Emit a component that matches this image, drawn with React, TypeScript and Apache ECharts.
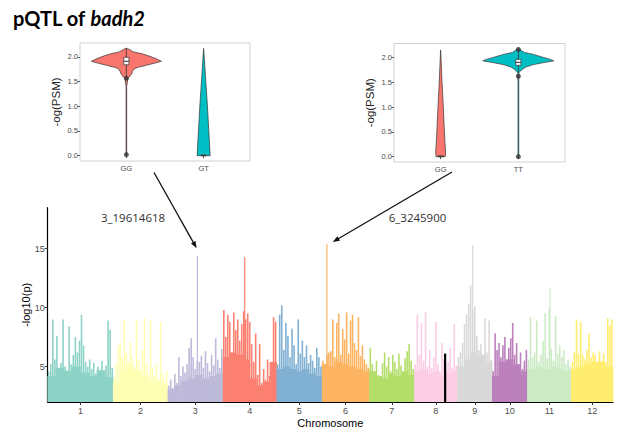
import React, { useEffect, useRef } from "react";
import * as echarts from "echarts";

// ---------- Manhattan plot data ----------
const chromosomes = ["1", "2", "3", "4", "5", "6", "7", "8", "9", "10", "11", "12"];
const chrLengthsMb = [43.27, 35.94, 36.41, 35.5, 29.96, 31.25, 29.7, 28.44, 23.01, 23.21, 29.02, 27.53];
const chrColors = ["#8DD3C7", "#FFFFB3", "#BEBADA", "#FB8072", "#80B1D3", "#FDB462", "#B3DE69", "#FCCDE5", "#D9D9D9", "#BC80BD", "#CCEBC5", "#FFED6F"];

// max -log10(p) per evenly spaced window along each chromosome
const chr1LogP = [4.6, 5.2, 9.0, 5.6, 7.6, 4.4, 5.3, 9.0, 5.0, 4.7, 8.4, 5.2, 6.0, 7.5, 6.2, 7.2, 9.4, 6.8, 5.4, 5.0, 5.6, 4.8, 5.3, 4.4, 5.0, 4.6, 5.5, 4.3, 5.1, 8.9, 8.1, 4.9];
const chr2LogP = [4.0, 5.2, 6.8, 7.0, 5.8, 9.0, 6.2, 5.4, 7.1, 5.8, 4.9, 9.0, 5.6, 4.8, 6.4, 9.1, 5.2, 4.4, 8.9, 4.9, 4.2, 5.3, 3.9, 8.8, 4.4, 3.8, 4.6];
const chr3LogP = [3.4, 3.9, 3.2, 4.4, 3.6, 5.8, 4.2, 5.0, 4.5, 5.2, 6.6, 7.4, 5.8, 4.8, 5.5, 5.4, 5.9, 4.9, 6.3, 5.3, 4.6, 6.0, 5.1, 7.4, 5.6, 4.9, 6.5];
const chr4LogP = [9.8, 7.5, 9.4, 8.8, 6.2, 9.6, 8.1, 9.0, 7.2, 8.6, 9.7, 9.0, 9.5, 8.8, 6.9, 5.4, 7.8, 4.3, 6.9, 3.6, 4.8, 3.9, 5.6, 4.2, 5.3, 9.2, 8.8];
const chr5LogP = [5.2, 9.4, 10.2, 6.4, 8.7, 7.6, 5.8, 8.2, 6.8, 5.2, 9.0, 6.1, 7.2, 5.8, 6.8, 5.3, 6.0, 5.5, 4.9, 6.6, 5.8, 5.0];
const chr6LogP = [5.5, 5.2, 6.0, 6.2, 6.3, 9.0, 5.8, 8.7, 9.5, 6.0, 8.2, 7.3, 9.6, 6.1, 8.9, 9.4, 7.0, 6.4, 9.2, 5.9, 6.8, 5.6, 5.2, 4.9];
const chr7LogP = [6.6, 5.2, 4.6, 5.5, 4.3, 3.9, 5.3, 6.2, 5.0, 5.8, 4.6, 6.0, 5.4, 4.8, 6.1, 5.1, 4.4, 5.7, 6.3, 6.9, 5.5, 4.8];
const chr8LogP = [5.2, 9.4, 6.0, 8.7, 5.5, 9.6, 5.0, 6.4, 4.9, 5.8, 8.8, 5.2, 4.6, 7.0, 5.6, 4.8, 5.4, 6.6, 4.9, 8.6, 5.1];
const chr9LogP = [5.8, 6.2, 7.0, 8.6, 9.4, 10.3, 11.9, 9.8, 10.1, 7.6, 6.4, 6.9, 5.8, 9.1, 6.2, 8.9, 5.6];
const chr10LogP = [4.6, 7.8, 6.4, 7.0, 5.8, 6.8, 7.5, 5.6, 6.6, 7.4, 8.7, 6.0, 7.0, 5.2, 6.2, 4.8, 5.5, 6.4];
const chr11LogP = [5.6, 9.2, 5.8, 6.2, 8.9, 5.4, 6.0, 7.2, 9.5, 5.7, 10.0, 6.5, 5.5, 9.3, 6.1, 6.8, 5.8, 6.4, 5.2, 5.6, 5.0];
const chr12LogP = [5.4, 6.2, 9.0, 6.1, 8.8, 6.0, 5.6, 6.4, 7.8, 5.8, 6.2, 6.0, 5.4, 6.3, 5.5, 6.1, 5.0, 9.1, 8.5, 9.0];
const logPByChr = [chr1LogP, chr2LogP, chr3LogP, chr4LogP, chr5LogP, chr6LogP, chr7LogP, chr8LogP, chr9LogP, chr10LogP, chr11LogP, chr12LogP];

// dense background level (where SNPs overlap completely) per chromosome segment
const chr1Floor = [4.2, 4.9, 4.6, 5.0, 4.5, 4.2, 4.7, 4.1];
const chr2Floor = [3.6, 4.6, 5.0, 4.6, 4.2, 3.8, 3.7, 3.5];
const chr3Floor = [3.1, 3.4, 3.8, 4.0, 4.3, 4.0, 4.2, 4.4];
const chr4Floor = [5.8, 6.2, 6.0, 5.6, 4.0, 3.4, 3.7, 5.4];
const chr5Floor = [4.8, 5.0, 4.8, 4.6, 4.8, 4.4, 4.2];
const chr6Floor = [5.2, 5.0, 5.4, 5.2, 5.0, 4.8, 4.6];
const chr7Floor = [4.6, 4.2, 4.0, 4.4, 4.2, 4.6, 4.3];
const chr8Floor = [4.6, 4.8, 4.4, 4.6, 4.2, 4.4, 4.6];
const chr9Floor = [5.0, 5.6, 6.2, 6.0, 5.4];
const chr10Floor = [4.2, 5.4, 5.6, 5.2, 4.6];
const chr11Floor = [4.8, 5.0, 4.8, 5.0, 4.8, 4.6];
const chr12Floor = [4.8, 5.0, 5.2, 5.4, 5.4, 5.0];
const floorByChr = [chr1Floor, chr2Floor, chr3Floor, chr4Floor, chr5Floor, chr6Floor, chr7Floor, chr8Floor, chr9Floor, chr10Floor, chr11Floor, chr12Floor];

// isolated tall single-SNP signals
const spikeChr = [3, 4, 6, 9, 11];
const spikePosMb = [19.614618, 14.45, 3.2459, 10.1, 14.9];
const spikeLogP = [14.4, 14.3, 15.4, 15.3, 11.7];

// highlighted badh2 locus (black)
const badh2Chr = 8;
const badh2PosMb = 20.38;
const badh2LogP = 6.1;

const yTicks = [5, 10, 15];
const yMin = 2;
const yMax = 18.47;

// lead SNP annotations (index into the spike arrays)
const leadSpikeIdx = [0, 2];
const leadLabels = ["3_19614618", "6_3245900"];

// ---------- violin insets ----------
const leftGenotypes = ["GG", "GT"];
const rightGenotypes = ["GG", "TT"];
const psmTicks = [0, 0.5, 1, 1.5, 2];
const psmMin = -0.108;
const psmMax = 2.28;

const leftGGLevels = [2.175, 2.15, 2.1, 2.06, 2.0, 1.95, 1.91, 1.87, 1.83, 1.79, 1.76, 1.7, 1.66, 1.62, 1.59, 1.56, 1.4, 1.0, 0.5, 0.02];
const leftGGHalf = [0, 0.039, 0.091, 0.207, 0.323, 0.401, 0.453, 0.362, 0.259, 0.155, 0.103, 0.078, 0.071, 0.052, 0.039, 0.019, 0.004, 0.004, 0.004, 0.004];
const leftGGBox = [1.56, 1.84, 1.91, 1.99, 2.17];
const leftGGOutliers = [1.565, 0.02];

const leftGTLevels = [2.17, 1.8, 1.5, 1.2, 0.9, 0.6, 0.3, 0.1, 0.0];
const leftGTHalf = [0, 0.016, 0.028, 0.041, 0.053, 0.063, 0.074, 0.081, 0.084];
const leftGTBox = [0, 0, 0, 0.02, 0.02];

const rightGGLevels = [2.15, 1.8, 1.5, 1.2, 0.9, 0.6, 0.3, 0.15, 0.05, 0.0];
const rightGGHalf = [0, 0.01, 0.018, 0.028, 0.037, 0.046, 0.055, 0.062, 0.063, 0.059];
const rightGGBox = [0, 0, 0, 0.02, 0.02];

const rightTTLevels = [2.175, 2.15, 2.1, 2.06, 2.0, 1.96, 1.93, 1.89, 1.85, 1.8, 1.76, 1.72, 1.69, 1.6, 1.0, 0.5, 0.0];
const rightTTHalf = [0, 0.026, 0.077, 0.193, 0.322, 0.412, 0.457, 0.309, 0.18, 0.09, 0.051, 0.026, 0.006, 0.005, 0.005, 0.005, 0.005];
const rightTTBox = [1.7, 1.84, 1.9, 1.96, 2.15];
const rightTTOutliers = [1.62, 0.0, 2.16];

const genoColors = ["#F8766D", "#00BFC4"];

export default function App() {
  const ref = useRef<HTMLDivElement>(null);

  useEffect(() => {
    if (!ref.current) return;
    const chart = echarts.init(ref.current, null, { renderer: "svg" });

    const offsets: number[] = [];
    let acc = 0;
    chrLengthsMb.forEach((l) => {
      offsets.push(acc);
      acc += l;
    });
    const genomeLen = acc;
    const mids = chrLengthsMb.map((l, i) => offsets[i] + l / 2);

    const floorData: number[][] = [];
    floorByChr.forEach((arr, c) => {
      const w = chrLengthsMb[c] / arr.length;
      arr.forEach((v, i) => floorData.push([offsets[c] + (i + 0.5) * w, v, c, w]));
    });
    const peakData: number[][] = [];
    logPByChr.forEach((arr, c) => {
      const w = chrLengthsMb[c] / arr.length;
      arr.forEach((v, i) => peakData.push([offsets[c] + (i + 0.5) * w, v, c]));
    });
    const spikeData = spikeChr.map((c, i) => [offsets[c - 1] + spikePosMb[i], spikeLogP[i], c - 1]);
    const badh2Data = [[offsets[badh2Chr - 1] + badh2PosMb, badh2LogP]];

    const font = "Liberation Sans, Arial, sans-serif";

    type Violin = { pos: number; color: string; levels: number[]; half: number[]; box: number[] };
    const leftViolins: Violin[] = [
      { pos: 1, color: genoColors[0], levels: leftGGLevels, half: leftGGHalf, box: leftGGBox },
      { pos: 2, color: genoColors[1], levels: leftGTLevels, half: leftGTHalf, box: leftGTBox },
    ];
    const rightViolins: Violin[] = [
      { pos: 1, color: genoColors[0], levels: rightGGLevels, half: rightGGHalf, box: rightGGBox },
      { pos: 2, color: genoColors[1], levels: rightTTLevels, half: rightTTHalf, box: rightTTBox },
    ];
    const boxHalf = 0.033;

    const violinRender = (violins: Violin[]) => (params: any, api: any) => {
      const v = violins[params.dataIndex];
      const right = v.levels.map((l, i) => api.coord([v.pos + v.half[i], l]));
      const left = v.levels.map((l, i) => api.coord([v.pos - v.half[i], l])).reverse();
      const [lo, q1, med, q3, hi] = v.box;
      const wTop = api.coord([v.pos, hi]);
      const wBot = api.coord([v.pos, lo]);
      const bTL = api.coord([v.pos - boxHalf, q3]);
      const bBR = api.coord([v.pos + boxHalf, q1]);
      const mL = api.coord([v.pos - boxHalf, med]);
      const mR = api.coord([v.pos + boxHalf, med]);
      return {
        type: "group",
        children: [
          {
            type: "polygon",
            shape: { points: right.concat(left) },
            style: { fill: v.color, stroke: "#333", lineWidth: 0.7 },
          },
          {
            type: "line",
            shape: { x1: wTop[0], y1: wTop[1], x2: wBot[0], y2: wBot[1] },
            style: { stroke: "#333", lineWidth: 0.8 },
          },
          {
            type: "rect",
            shape: { x: bTL[0], y: bTL[1], width: bBR[0] - bTL[0], height: Math.max(1, bBR[1] - bTL[1]) },
            style: { fill: "#fff", stroke: "#333", lineWidth: 0.7 },
          },
          {
            type: "line",
            shape: { x1: mL[0], y1: mL[1], x2: mR[0], y2: mR[1] },
            style: { stroke: "#333", lineWidth: 1 },
          },
        ],
      };
    };

    const insetXAxis = (gridIndex: number, labels: string[]) => ({
      type: "value",
      gridIndex,
      min: 0.4,
      max: 2.6,
      axisLine: { show: false },
      splitLine: { show: false },
      axisTick: { show: true, customValues: [1, 2], length: 2.5, lineStyle: { color: "#333", width: 0.8 } },
      axisLabel: {
        customValues: [1, 2],
        formatter: (val: number) => labels[Math.round(val) - 1] ?? "",
        fontSize: 7.5,
        color: "#4d4d4d",
        margin: 3,
        fontFamily: font,
      },
    });
    const insetYAxis = (gridIndex: number) => ({
      type: "value",
      gridIndex,
      min: psmMin,
      max: psmMax,
      name: "-og(PSM)",
      nameLocation: "middle",
      nameGap: 18,
      nameMoveOverlap: false,
      nameTextStyle: { fontSize: 11.5, color: "#222", fontFamily: font },
      axisLine: { show: false },
      splitLine: { show: false },
      axisTick: { show: true, customValues: psmTicks, length: 2.5, lineStyle: { color: "#333", width: 0.8 } },
      axisLabel: {
        customValues: psmTicks,
        formatter: (val: number) => val.toFixed(1),
        fontSize: 7.5,
        color: "#4d4d4d",
        margin: 2,
        fontFamily: font,
      },
    });

    const vLine = (colorOf: (api: any) => string, width: number) => (params: any, api: any) => {
      const top = api.coord([api.value(0), api.value(1)]);
      const bot = api.coord([api.value(0), yMin]);
      return {
        type: "line",
        shape: { x1: top[0], y1: top[1], x2: bot[0], y2: bot[1] },
        style: { stroke: colorOf(api), lineWidth: width },
      };
    };

    chart.setOption({
      animation: false,
      backgroundColor: "#fff",
      title: {
        text: "{a|pQTL of }{b|badh2}",
        left: 8,
        top: 3,
        textStyle: {
          rich: {
            a: { fontFamily: "Lato", fontWeight: "bold", fontSize: 20, color: "#000" },
            b: { fontFamily: "Lato", fontWeight: "bold", fontStyle: "italic", fontSize: 20, color: "#000" },
          },
        },
      },
      grid: [
        { left: 47.7, top: 207.7, width: 565.3, height: 194.3 },
        { left: 80, top: 43, width: 170, height: 118, show: true, borderColor: "#d2d2d2", borderWidth: 1, backgroundColor: "#fff" },
        { left: 394, top: 43.5, width: 171, height: 118.5, show: true, borderColor: "#d2d2d2", borderWidth: 1, backgroundColor: "#fff" },
      ],
      xAxis: [
        {
          type: "value",
          gridIndex: 0,
          min: 0,
          max: genomeLen,
          name: "Chromosome",
          nameLocation: "middle",
          nameGap: 15,
          nameMoveOverlap: false,
          nameTextStyle: { fontSize: 11, color: "#000", fontFamily: font },
          axisLine: { show: true, lineStyle: { color: "#000", width: 1.2 } },
          splitLine: { show: false },
          axisTick: { show: true, customValues: mids, length: 3, lineStyle: { color: "#333" } },
          axisLabel: {
            customValues: mids,
            formatter: (val: number) => {
              const i = mids.findIndex((m) => Math.abs(m - val) < 1e-6);
              return i >= 0 ? chromosomes[i] : "";
            },
            fontSize: 9,
            color: "#4d4d4d",
            margin: 4,
            fontFamily: font,
          },
        },
        insetXAxis(1, leftGenotypes),
        insetXAxis(2, rightGenotypes),
      ],
      yAxis: [
        {
          type: "value",
          gridIndex: 0,
          min: yMin,
          max: yMax,
          name: "-log10(p)",
          nameLocation: "middle",
          nameGap: 16,
          nameMoveOverlap: false,
          nameTextStyle: { fontSize: 11, color: "#000", fontFamily: font },
          axisLine: { show: true, lineStyle: { color: "#000", width: 1.2 } },
          splitLine: { show: false },
          axisTick: { show: true, customValues: yTicks, length: 3, lineStyle: { color: "#333" } },
          axisLabel: { customValues: yTicks, fontSize: 9, color: "#4d4d4d", margin: 3, fontFamily: font },
        },
        insetYAxis(1),
        insetYAxis(2),
      ],
      series: [
        {
          type: "custom",
          xAxisIndex: 0,
          yAxisIndex: 0,
          data: floorData,
          encode: { x: 0, y: 1 },
          renderItem: (params: any, api: any) => {
            const x = api.value(0);
            const v = api.value(1);
            const c = api.value(2);
            const w = api.value(3);
            const tl = api.coord([x - w / 2, v]);
            const br = api.coord([x + w / 2, yMin]);
            return {
              type: "rect",
              shape: { x: tl[0] - 0.3, y: tl[1], width: br[0] - tl[0] + 0.6, height: br[1] - tl[1] },
              style: { fill: chrColors[c] },
            };
          },
        },
        {
          type: "custom",
          xAxisIndex: 0,
          yAxisIndex: 0,
          data: peakData,
          encode: { x: 0, y: 1 },
          renderItem: vLine((api) => chrColors[api.value(2)], 1.6),
        },
        {
          type: "custom",
          xAxisIndex: 0,
          yAxisIndex: 0,
          data: spikeData,
          encode: { x: 0, y: 1 },
          renderItem: vLine((api) => chrColors[api.value(2)], 1.2),
        },
        {
          type: "custom",
          xAxisIndex: 0,
          yAxisIndex: 0,
          data: badh2Data,
          encode: { x: 0, y: 1 },
          renderItem: vLine(() => "#000", 2.2),
        },
        {
          type: "custom",
          xAxisIndex: 1,
          yAxisIndex: 1,
          data: leftViolins.map((v) => [v.pos, v.box[2]]),
          encode: { x: 0, y: 1 },
          renderItem: violinRender(leftViolins),
        },
        {
          type: "scatter",
          xAxisIndex: 1,
          yAxisIndex: 1,
          data: leftGGOutliers.map((y) => [1, y]),
          symbolSize: 5,
          itemStyle: { color: "#333" },
        },
        {
          type: "custom",
          xAxisIndex: 2,
          yAxisIndex: 2,
          data: rightViolins.map((v) => [v.pos, v.box[2]]),
          encode: { x: 0, y: 1 },
          renderItem: violinRender(rightViolins),
        },
        {
          type: "scatter",
          xAxisIndex: 2,
          yAxisIndex: 2,
          data: rightTTOutliers.map((y) => [2, y]),
          symbolSize: 5,
          itemStyle: { color: "#333" },
        },
      ],
    });

    // annotations: arrows from insets to lead SNPs
    const arrowStarts = [
      [154, 172.5],
      [452, 172],
    ];
    const tipOffsets = [
      [-0.7, -7.4],
      [5.8, -1.9],
    ];
    const labelPos = [
      [133, 217],
      [417.5, 217.5],
    ];
    const graphics: any[] = [];
    leadSpikeIdx.forEach((si, k) => {
      const peak = chart.convertToPixel({ gridIndex: 0 } as any, [
        offsets[spikeChr[si] - 1] + spikePosMb[si],
        spikeLogP[si],
      ]) as number[];
      const tip = [peak[0] + tipOffsets[k][0], peak[1] + tipOffsets[k][1]];
      const start = arrowStarts[k];
      const dx = tip[0] - start[0];
      const dy = tip[1] - start[1];
      const len = Math.sqrt(dx * dx + dy * dy);
      const ux = dx / len;
      const uy = dy / len;
      const headLen = 7;
      const headHalf = 2.6;
      const bx = tip[0] - ux * headLen;
      const by = tip[1] - uy * headLen;
      graphics.push({
        type: "line",
        shape: { x1: start[0], y1: start[1], x2: bx + ux, y2: by + uy },
        style: { stroke: "#111", lineWidth: 1.3 },
      });
      graphics.push({
        type: "polygon",
        shape: {
          points: [
            [tip[0], tip[1]],
            [bx - uy * headHalf, by + ux * headHalf],
            [bx + uy * headHalf, by - ux * headHalf],
          ],
        },
        style: { fill: "#111" },
      });
      graphics.push({
        type: "text",
        x: labelPos[k][0],
        y: labelPos[k][1],
        style: {
          text: leadLabels[k],
          fontFamily: "Open Sans",
          fontSize: 11.5,
          fill: "#333",
          align: "center",
          verticalAlign: "middle",
        },
      });
    });
    chart.setOption({ graphic: graphics });

    return () => chart.dispose();
  }, []);

  return (
    <div
      ref={ref}
      style={{ position: "fixed", left: 0, top: 0, width: 618, height: 431, background: "#fff" }}
    />
  );
}
